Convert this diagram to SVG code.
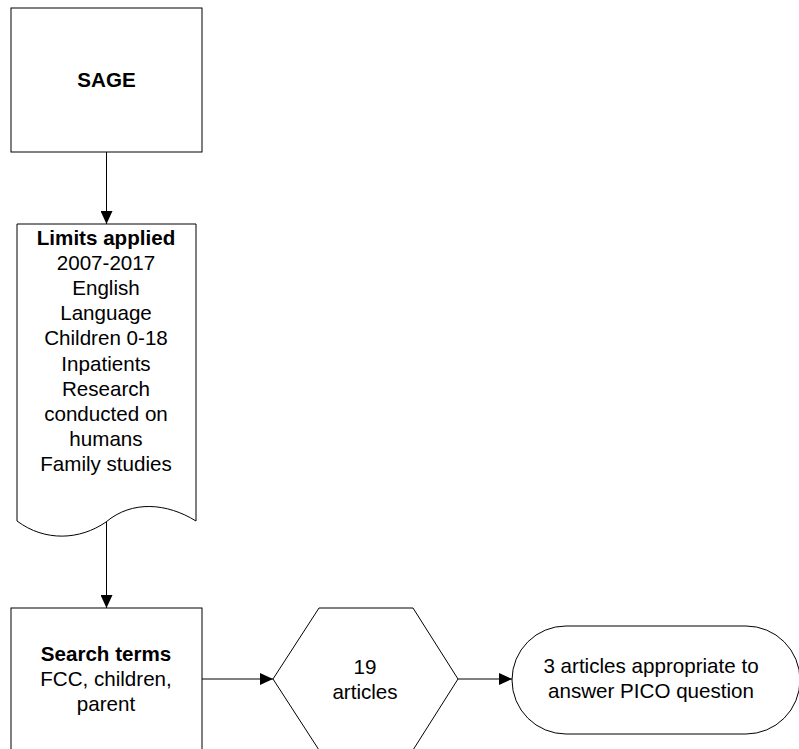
<svg xmlns="http://www.w3.org/2000/svg" width="799" height="749" viewBox="0 0 799 749">
<style>
.shape{fill:#fff;stroke:#000;stroke-width:1}
.conn{fill:none;stroke:#000;stroke-width:1}
text{font-family:"Liberation Sans",Arial,sans-serif;font-size:20.6px;fill:#000;text-anchor:middle}
.b{font-weight:bold}
</style>
<defs>
<marker id="arr" markerWidth="13" markerHeight="12" refX="13" refY="6" orient="auto" markerUnits="userSpaceOnUse">
<path d="M0,0 L13,6 L0,12 Z" fill="#000"/>
</marker>
</defs>
<rect width="799" height="749" fill="#fff"/>
<g id="connectors">
<line class="conn" x1="106.5" y1="152" x2="106.5" y2="224" marker-end="url(#arr)"/>
<line class="conn" x1="106.5" y1="522" x2="106.5" y2="608" marker-end="url(#arr)"/>
<line class="conn" x1="202" y1="679" x2="273" y2="679" marker-end="url(#arr)"/>
<line class="conn" x1="458" y1="679" x2="512" y2="679" marker-end="url(#arr)"/>
</g>
<g id="sage">
<rect class="shape" x="11" y="8" width="191" height="144"/>
<text class="b" x="106.5" y="87">SAGE</text>
</g>
<g id="limits">
<path class="shape" d="M17,224 L196,224 L196,521 C167,503 132,500 106,522 C80,540 45,542 17,521 Z"/>
<text x="106" y="245"><tspan class="b" x="106">Limits applied</tspan><tspan x="106" dy="25.1">2007-2017</tspan><tspan x="106" dy="25.1">English</tspan><tspan x="106" dy="25.1">Language</tspan><tspan x="106" dy="25.1">Children 0-18</tspan><tspan x="106" dy="25.1">Inpatients</tspan><tspan x="106" dy="25.1">Research</tspan><tspan x="106" dy="25.1">conducted on</tspan><tspan x="106" dy="25.1">humans</tspan><tspan x="106" dy="25.1">Family studies</tspan></text>
</g>
<g id="search">
<rect class="shape" x="11" y="608" width="191" height="160"/>
<text x="106" y="661"><tspan class="b" x="106">Search terms</tspan><tspan x="106" dy="25">FCC, children,</tspan><tspan x="106" dy="25">parent</tspan></text>
</g>
<g id="articles19">
<polygon class="shape" points="319,608 413,608 458,679 413,750 319,750 273,679"/>
<text x="365" y="674"><tspan x="365">19</tspan><tspan x="365" dy="25">articles</tspan></text>
</g>
<g id="result">
<rect class="shape" x="512" y="626" width="288" height="108" rx="54" ry="54"/>
<text x="651" y="673"><tspan x="651">3 articles appropriate to</tspan><tspan x="651" dy="25">answer PICO question</tspan></text>
</g>
</svg>
